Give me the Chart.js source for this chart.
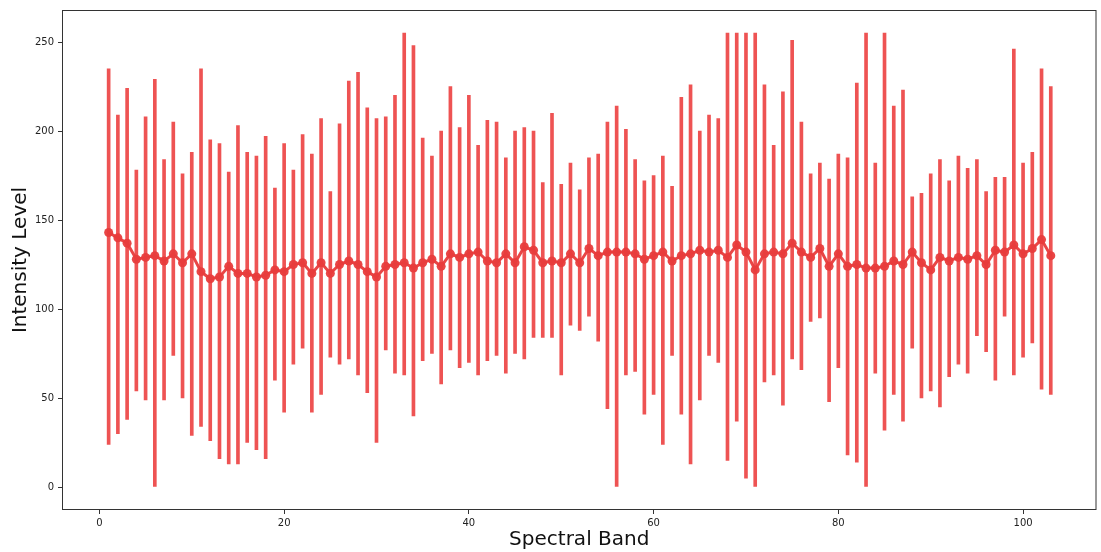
<!DOCTYPE html>
<html>
<head>
<meta charset="utf-8">
<script src="https://cdn.jsdelivr.net/npm/chart.js@4.4.1/dist/chart.umd.min.js"></script>
<style>
  body { margin: 0; background: #fff; }
  canvas { display: block; }
</style>
</head>
<body>
<canvas id="chart" width="1101" height="552"></canvas>
<script>
const bandMeans = [
  143, 140, 137, 128, 129, 130, 127, 131, 126, 131,
  121, 117, 118, 124, 120, 120, 118, 119, 122, 121,
  125, 126, 120, 126, 120, 125, 127, 125, 121, 118,
  124, 125, 126, 123, 126, 128, 124, 131, 129, 131,
  132, 127, 126, 131, 126, 135, 133, 126, 127, 126,
  131, 126, 134, 130, 132, 132, 132, 131, 128, 130,
  132, 127, 130, 131, 133, 132, 133, 129, 136, 132,
  122, 131, 132, 131, 137, 132, 129, 134, 124, 131,
  124, 125, 123, 123, 124, 127, 125, 132, 126, 122,
  129, 127, 129, 128, 130, 125, 133, 132, 136, 131,
  134, 139, 130,
];
const bandMax = [
  235, 209, 224, 178, 208, 229, 184, 205, 176, 188,
  235, 195, 193, 177, 203, 188, 186, 197, 168, 193,
  178, 198, 187, 207, 166, 204, 228, 233, 213, 207,
  208, 220, 255, 248, 196, 186, 200, 225, 202, 220,
  192, 206, 205, 185, 200, 202, 200, 171, 210, 170,
  182, 167, 185, 187, 205, 214, 201, 184, 172, 175,
  186, 169, 219, 226, 200, 209, 207, 255, 255, 255,
  255, 226, 192, 222, 251, 205, 176, 182, 173, 187,
  185, 227, 255, 182, 255, 214, 223, 163, 165, 176,
  184, 172, 186, 179, 184, 166, 174, 174, 246, 182,
  188, 235, 225,
];
const bandMin = [
  24, 30, 38, 54, 49, 0, 49, 74, 50, 29,
  34, 26, 16, 13, 13, 25, 21, 16, 60, 42,
  69, 78, 42, 52, 73, 69, 72, 63, 53, 25,
  77, 64, 63, 40, 71, 75, 58, 77, 67, 70,
  63, 71, 74, 64, 75, 72, 84, 84, 84, 63,
  91, 88, 96, 82, 44, 0, 63, 65, 41, 52,
  24, 74, 41, 13, 49, 74, 70, 15, 37, 5,
  0, 59, 63, 46, 72, 66, 93, 95, 48, 67,
  18, 14, 0, 64, 32, 52, 37, 78, 50, 54,
  45, 62, 69, 64, 85, 76, 60, 96, 63, 73,
  81, 55, 52,
];
const xTicks = [0, 20, 40, 60, 80, 100];
const yTicks = [0, 50, 100, 150, 200, 250];

const bands = bandMeans.map((_, i) => i + 1);

const frameBox = {
  id: "frameBox",
  afterDraw: (chart) => {
    const { ctx, chartArea } = chart;
    ctx.save();
    ctx.strokeStyle = "#333";
    ctx.lineWidth = 1;
    ctx.strokeRect(chartArea.left + 0.5, chartArea.top + 0.5,
      chartArea.right - chartArea.left - 1, chartArea.bottom - chartArea.top - 1);
    ctx.restore();
  },
};

const tickFont = { family: "DejaVu Sans", size: 10 };
const titleFont = { family: "DejaVu Sans", size: 20 };

new Chart(document.getElementById("chart").getContext("2d"), {
  data: {
    datasets: [
      {
        type: "line",
        label: "Mean",
        data: bands.map((b, i) => ({ x: b, y: bandMeans[i] })),
        borderColor: "rgba(232, 60, 60, 0.95)",
        backgroundColor: "rgba(232, 60, 60, 0.95)",
        borderWidth: 3,
        pointRadius: 4.5,
        pointBorderWidth: 0,
        tension: 0,
        order: 0,
      },
      {
        type: "bar",
        label: "Range",
        data: bands.map((b, i) => ({ x: b, y: [bandMin[i], bandMax[i]] })),
        backgroundColor: "rgba(236, 64, 64, 0.9)",
        borderWidth: 0,
        barThickness: 3,
        grouped: false,
        order: 1,
      },
    ],
  },
  options: {
    responsive: false,
    animation: false,
    layout: { padding: { top: 10, right: 1, left: 0, bottom: 0 } },
    plugins: {
      legend: { display: false },
      tooltip: { enabled: false },
    },
    scales: {
      x: {
        type: "linear",
        offset: false,
        min: -4.05,
        max: 107.95,
        afterBuildTicks: (axis) => {
          axis.ticks = xTicks.map((v) => ({ value: v }));
        },
        afterFit: (axis) => { axis.height = 42; },
        grid: { offset: false, drawOnChartArea: false, drawTicks: true, tickLength: 4, color: "#333" },
        border: { display: false },
        ticks: { font: tickFont, color: "#222", padding: 3, maxRotation: 0 },
        title: { display: true, text: "Spectral Band", font: titleFont, color: "#111", padding: { top: 0, bottom: 0 } },
      },
      y: {
        type: "linear",
        min: -12.9,
        max: 268,
        afterBuildTicks: (axis) => {
          axis.ticks = yTicks.map((v) => ({ value: v }));
        },
        afterFit: (axis) => { axis.width = 62; },
        grid: { drawOnChartArea: false, drawTicks: true, tickLength: 4, color: "#333" },
        border: { display: false },
        ticks: { font: tickFont, color: "#222", padding: 4 },
        title: { display: true, text: "Intensity Level", font: titleFont, color: "#111", padding: { top: 9, bottom: 0 } },
      },
    },
  },
  plugins: [frameBox],
});
</script>
</body>
</html>
